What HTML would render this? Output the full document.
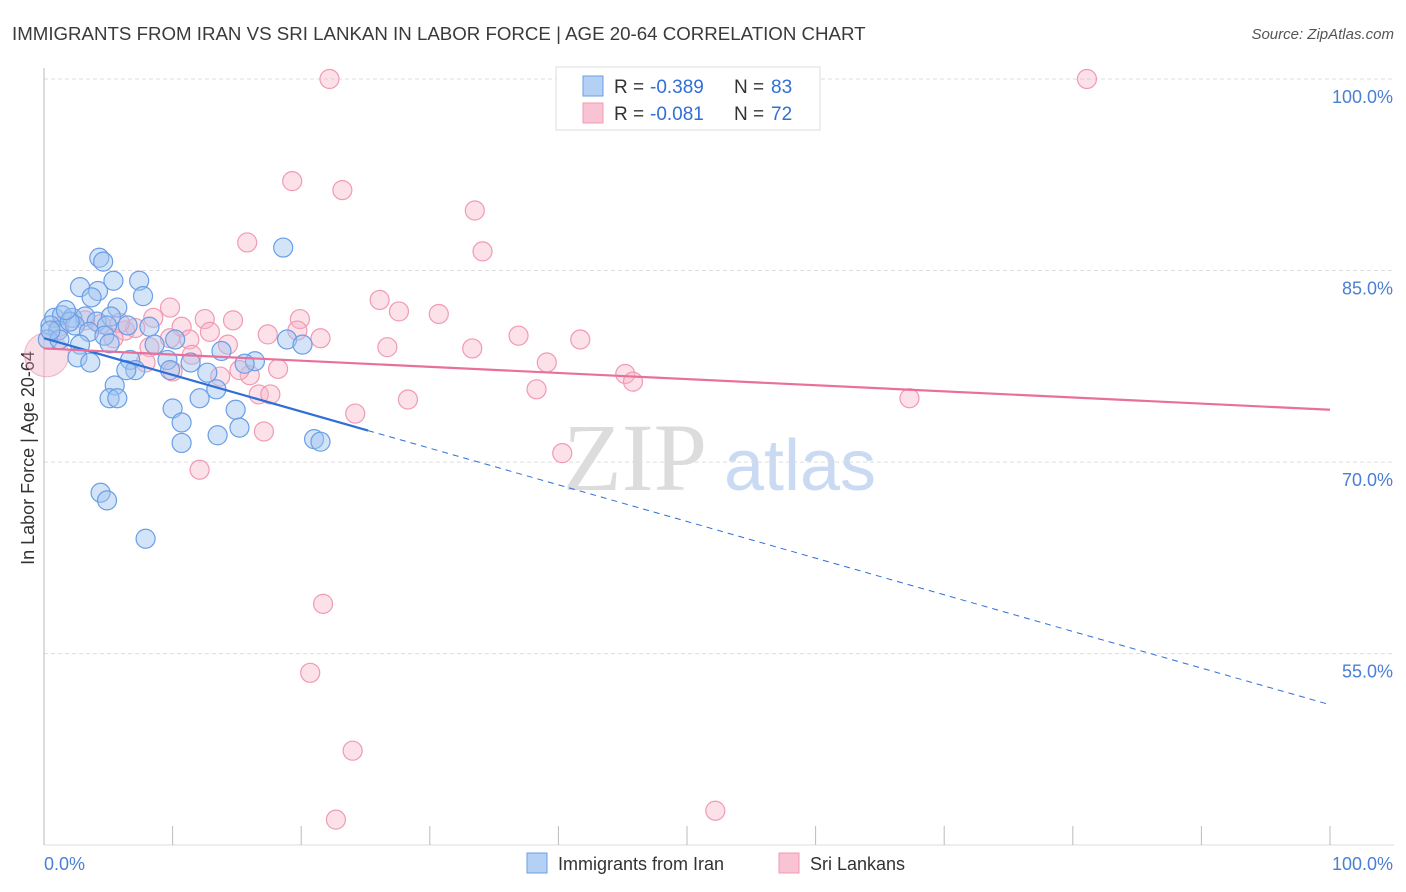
<!DOCTYPE html>
<html><head><meta charset="utf-8"><style>
body{margin:0;background:#fff;font-family:"Liberation Sans",sans-serif}
#wrap{position:relative;width:1406px;height:892px;overflow:hidden}
</style></head><body>
<div id="wrap">
<svg id="svg" width="1406" height="892">
<text x="12" y="40" font-size="18.7" fill="#3a3a3a">IMMIGRANTS FROM IRAN VS SRI LANKAN IN LABOR FORCE | AGE 20-64 CORRELATION CHART</text>
<text x="1394" y="39" font-size="15" fill="#555" font-style="italic" text-anchor="end">Source: ZipAtlas.com</text>
<text x="34" y="458" font-size="18" fill="#333" transform="rotate(-90 34 458)" text-anchor="middle">In Labor Force | Age 20-64</text>
<text x="635" y="490" font-size="96" fill="#dcdcdc" font-family="Liberation Serif,serif" text-anchor="middle">ZIP</text>
<text x="800" y="490" font-size="72" fill="#c9daf2" text-anchor="middle">atlas</text>
<g id="grid"></g><g id="pts"></g><g id="lines"></g>
<g>
<rect x="556" y="67" width="264" height="63" fill="#fff" stroke="#ddd"/>
<rect x="583" y="76" width="20" height="20" fill="#b5d0f5" stroke="#6a9ee6"/>
<rect x="583" y="103" width="20" height="20" fill="#f8c4d4" stroke="#f09ab5"/>
<text x="614" y="93" font-size="19" fill="#333">R =</text>
<text x="650" y="93" font-size="19" fill="#2f6fd6">-0.389</text>
<text x="734" y="93" font-size="19" fill="#333">N =</text>
<text x="771" y="93" font-size="19" fill="#2f6fd6">83</text>
<text x="614" y="120" font-size="19" fill="#333">R =</text>
<text x="650" y="120" font-size="19" fill="#2f6fd6">-0.081</text>
<text x="734" y="120" font-size="19" fill="#333">N =</text>
<text x="771" y="120" font-size="19" fill="#2f6fd6">72</text>
</g>
<g>
<rect x="527" y="853" width="20" height="20" fill="#b5d0f5" stroke="#6a9ee6"/>
<text x="558" y="870" font-size="18" fill="#333">Immigrants from Iran</text>
<rect x="779" y="853" width="20" height="20" fill="#f8c4d4" stroke="#f09ab5"/>
<text x="810" y="870" font-size="18" fill="#333">Sri Lankans</text>
</g>
<text x="44" y="870" font-size="18" fill="#4a7fd4">0.0%</text>
<text x="1393" y="870" font-size="18" fill="#4a7fd4" text-anchor="end">100.0%</text>
</svg></div>
<script>
const yTicks=[100,85,70,55];
const xTicks=[0,10,20,30,40,50,60,70,80,90,100];
const blueX=[4.3,4.6,18.6,2.8,4.2,5.4,7.4,3.7,7.7,5.7,0.8,1.4,2.2,3.2,0.5,1.1,2.4,4.1,5.2,3.5,4.9,8.2,0.3,1.2,2.8,4.7,6.5,8.6,10.2,13.8,18.9,20.1,2.6,3.6,6.7,7.1,9.6,11.4,12.7,9.8,16.4,15.6,6.4,5.5,5.1,5.7,10.0,12.1,13.4,14.9,10.7,15.2,10.7,13.5,21.0,21.5,4.4,4.9,7.9,0.5,2.0,1.7,5.1];
const blueY=[86.0,85.7,86.8,83.7,83.4,84.2,84.2,82.9,83.0,82.1,81.3,81.5,81.3,81.4,80.7,80.3,80.7,81.0,81.4,80.2,80.7,80.6,79.6,79.6,79.2,79.9,80.7,79.2,79.6,78.7,79.6,79.2,78.2,77.8,78.0,77.2,78.0,77.8,77.0,77.2,77.9,77.7,77.2,76.0,75.0,75.0,74.2,75.0,75.7,74.1,73.1,72.7,71.5,72.1,71.8,71.6,67.6,67.0,64.0,80.3,81.0,81.9,79.3];
const pinkX=[22.2,81.1,19.3,23.2,33.5,15.8,34.1,26.1,27.6,30.7,9.8,19.9,12.5,14.7,10.7,12.9,19.7,21.5,36.9,41.7,26.7,33.3,14.3,8.2,11.3,6.3,7.1,8.5,5.4,39.1,16.0,18.2,45.2,45.8,38.3,16.7,17.6,28.3,67.3,24.2,17.1,40.3,12.1,21.7,20.7,24.0,22.7,52.2,4.4,5.9,1.2,3.2,10.0,7.9,11.5,13.7,17.4,9.8,15.2];
const pinkY=[100,100,92.0,91.3,89.7,87.2,86.5,82.7,81.8,81.6,82.1,81.2,81.2,81.1,80.6,80.2,80.3,79.7,79.9,79.6,79.0,78.9,79.2,79.0,79.6,80.3,80.5,81.3,79.7,77.8,76.8,77.3,76.9,76.3,75.7,75.3,75.3,74.9,75.0,73.8,72.4,70.7,69.4,58.9,53.5,47.4,42.0,42.7,80.8,80.9,80.6,81.1,77.1,77.8,78.4,76.7,80.0,79.7,77.2];
const bigPink=[0.2,78.4];
const blueTrend=[79.7,51.0];
const pinkTrend=[78.9,74.1];
const NS="http://www.w3.org/2000/svg";
const sx=v=>44+v*12.86, sy=v=>79+(100-v)*12.77;
function mk(t,a,p){const e=document.createElementNS(NS,t);for(const k in a)e.setAttribute(k,a[k]);p.appendChild(e);return e;}
const grid=document.getElementById('grid'),pts=document.getElementById('pts'),lines=document.getElementById('lines');
yTicks.forEach(v=>{
 const l=mk('line',{x1:44,x2:1394,y1:sy(v),y2:sy(v),stroke:'#ddd','stroke-dasharray':'4,3'},grid);
 
 
 const t=mk('text',{x:1393,y:sy(v)+24,'font-size':18,fill:'#4a7fd4','text-anchor':'end'},grid);
 t.textContent=v.toFixed(1)+'%';
 
 
});
const ax=mk('line',{x1:44,x2:44,y1:68,y2:845,stroke:'#bbb'},grid);


const bx=mk('line',{x1:44,x2:1394,y1:845,y2:845,stroke:'#ddd'},grid);


xTicks.forEach(v=>{
 const l=mk('line',{x1:sx(v),x2:sx(v),y1:826,y2:845,stroke:'#bbb'},grid);
 
 
});
const bp=mk('circle',{cx:sx(bigPink[0]),cy:sy(bigPink[1]),r:22,fill:'rgba(240,160,185,0.35)',stroke:'rgba(235,140,170,0.6)'},pts);


pinkX.forEach((x,i)=>{
 const c=mk('circle',{cx:sx(x),cy:sy(pinkY[i]),r:9.5,fill:'rgba(248,180,200,0.4)',stroke:'#f09ab5','stroke-width':1.2},pts);
 
 
});
blueX.forEach((x,i)=>{
 const c=mk('circle',{cx:sx(x),cy:sy(blueY[i]),r:9.5,fill:'rgba(160,196,240,0.45)',stroke:'#6a9ee6','stroke-width':1.2},pts);
 
 
});
const bAt=x=>blueTrend[0]+(blueTrend[1]-blueTrend[0])*x/100;
const l1=mk('line',{x1:sx(0),y1:sy(bAt(0)),x2:sx(25.2),y2:sy(bAt(25.2)),stroke:'#2f6fd6','stroke-width':2.2},lines);


const l2=mk('line',{x1:sx(25.2),y1:sy(bAt(25.2)),x2:sx(100),y2:sy(bAt(100)),stroke:'#2f6fd6','stroke-width':1,'stroke-dasharray':'6,5'},lines);


const l3=mk('line',{x1:sx(0),y1:sy(pinkTrend[0]),x2:sx(100),y2:sy(pinkTrend[1]),stroke:'#e8709a','stroke-width':2.2},lines);


</script>
</body></html>
